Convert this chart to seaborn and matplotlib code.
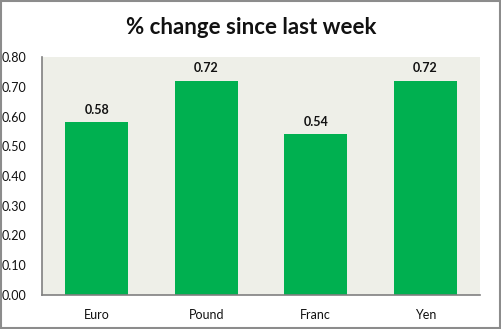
import matplotlib
matplotlib.use("Agg")
import matplotlib.pyplot as plt
import seaborn as sns
import pandas as pd
from matplotlib.patches import Rectangle

currencies = ["Euro", "Pound", "Franc", "Yen"]
changes = [0.58, 0.72, 0.54, 0.72]
y_ticks = [0.0, 0.1, 0.2, 0.3, 0.4, 0.5, 0.6, 0.7, 0.8]

df = pd.DataFrame({"currency": currencies, "change": changes})

sns.set_theme(style="white")
plt.rcParams["font.family"] = ["Lato", "DejaVu Sans"]

fig = plt.figure(figsize=(5.02, 3.29), dpi=100)
ax = fig.add_axes([42 / 502, 1 - 295 / 329, 438 / 502, 238 / 329])
ax.set_facecolor("#EEEFE8")

sns.barplot(data=df, x="currency", y="change", color="#00B050",
            width=0.575, saturation=1, ax=ax, edgecolor="none")

for i, v in enumerate(changes):
    ax.text(i, v + 0.022, f"{v:.2f}", ha="center", va="bottom",
            fontsize=9, fontweight="bold", color="#111111")

ax.set_ylim(0, 0.8)
ax.set_xlim(-0.5, 3.5)
ax.set_yticks(y_ticks)
ax.set_yticklabels([f"{t:.2f}" for t in y_ticks])
ax.tick_params(axis="both", length=0, labelsize=9, colors="#111111")
ax.tick_params(axis="y", pad=11)
ax.tick_params(axis="x", pad=10)
ax.set_xlabel("")
ax.set_ylabel("")

for side in ["top", "right"]:
    ax.spines[side].set_visible(False)
for side in ["left", "bottom"]:
    ax.spines[side].set_color("#808080")
    ax.spines[side].set_linewidth(1.2)

fig.text(0.5, 1 - 27 / 329, "% change since last week", ha="center",
         va="center", fontsize=16, fontweight="bold", color="#111111")

fig.patches.append(Rectangle((0.002, 0.003), 0.994, 0.993,
                             transform=fig.transFigure, fill=False,
                             edgecolor="#8C8C8C", linewidth=1.5))

fig.savefig("out.png", dpi=100)
